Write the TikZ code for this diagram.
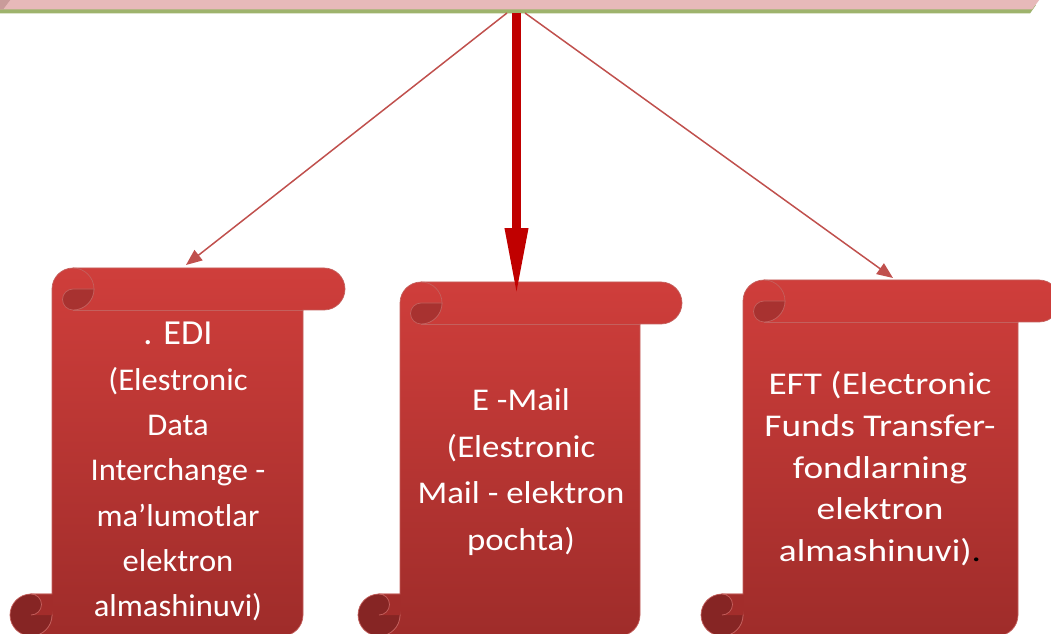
\documentclass[tikz,border=0pt]{standalone}
\usepackage{fontspec}
\newfontfamily\edifont[FakeStretch=1.03]{Carlito}
\newfontfamily\mailfont[FakeStretch=1.1]{Carlito}
\newfontfamily\eftfont[FakeStretch=1.18]{Carlito}
\usetikzlibrary{arrows.meta}

\definecolor{barpink}{HTML}{E7B9B9}
\definecolor{bargreen}{HTML}{9EB36C}
\definecolor{barside}{HTML}{C99B9A}
\definecolor{scrolltop}{HTML}{CF3E3B}
\definecolor{scrollbot}{HTML}{9F2C2A}
\definecolor{scrollline}{HTML}{C4605D}
\definecolor{curltop}{HTML}{A83230}
\definecolor{curlbot}{HTML}{862524}
\definecolor{linkred}{HTML}{C0504D}
\definecolor{mainred}{HTML}{C00000}

\begin{document}
\begin{tikzpicture}[x=0.02cm,y=-0.02cm,
  link/.style={draw=linkred,line width=0.85pt,-{Triangle[length=0.32cm,width=0.26cm]}},
  mainlink/.style={draw=mainred,line width=0.19cm,-{Triangle[length=1.4cm,width=0.42cm]}},
  scrolltext/.style 2 args={text=white,align=center,inner sep=0pt,anchor=north,
    font=#1\fontsize{18}{#2}\selectfont},
]
  \useasboundingbox (0,0) rectangle (1051,634);
  \clip (0,0) rectangle (1051,634);
  % 上の帯
  \fill[bargreen] (-5,5) -- (1036,5) -- (1030,13.5) -- (-5,13.5) -- cycle;
  \fill[barpink] (-5,-5) -- (1043,-5) -- (1032,9.5) -- (-5,9.5) -- cycle;
  \fill[barside] (-5,-5) -- (14,-5) -- (3,9.5) -- (-5,9.5) -- cycle;
  % 巻物
  \foreach \x/\r/\t in {10/345/268, 358/682/282, 701/1060/280}{
    \shadedraw[top color=scrolltop,bottom color=scrollbot,draw=scrollline,line width=0.4pt]
      (\x+21,636) arc[start angle=90,delta angle=-90,radius=21]
      -- (\x+21,615) arc[start angle=90,delta angle=180,radius=10.5]
      -- (\x+42,594) -- (\x+42,\t+21)
      arc[start angle=180,delta angle=90,radius=21]
      -- (\r-21,\t) arc[start angle=270,delta angle=180,radius=21]
      -- (\r-42,\t+42) -- (\r-42,615)
      arc[start angle=0,delta angle=90,radius=21] -- cycle;
    \draw[scrollline,line width=0.4pt] (\x+63,\t+42) -- (\r-42,\t+42);
    \draw[scrollline,line width=0.4pt] (\x+63,\t) arc[start angle=270,delta angle=180,radius=21];
    \filldraw[fill=curltop,draw=scrollline,line width=0.4pt] (\x+84,\t+21)
      arc[start angle=0,delta angle=90,radius=21]
      arc[start angle=90,delta angle=180,radius=10.5] -- cycle;
    % 下の巻き
    \filldraw[fill=curlbot,draw=scrollline,line width=0.4pt] (\x+21,615) circle[radius=21];
    \fill[scrollbot!92!scrolltop] (\x+21,594) -- (\x+42,594) -- (\x+42,615) -- (\x+21,615)
      arc[start angle=90,delta angle=-180,radius=10.5] -- cycle;
    \draw[scrollline,line width=0.4pt] (\x+42,594) -- (\x+21,594)
      arc[start angle=270,delta angle=180,radius=10.5];
  }
  % 文字
  \node[scrolltext={\edifont}{25.8pt}] (edi) at (178,322)
    {{\fontsize{20}{25.8}\selectfont. EDI}\\(Elestronic\\Data\\Interchange -\\ma’lumotlar\\elektron\\almashinuvi)};
  \node[scrolltext={\mailfont}{26.6pt}] (mail) at (521,388)
    {E -Mail\\(Elestronic\\Mail - elektron\\pochta)};
  \node[scrolltext={\eftfont}{23.8pt}] (eft) at (880,371)
    {EFT (Electronic\\Funds Transfer-\\fondlarning\\elektron\\almashinuvi)\textcolor{black}{.}};
  % 矢印
  \coordinate (barL) at (507,13);
  \coordinate (barC) at (516.5,13);
  \coordinate (barR) at (525,13);
  \coordinate (ediTop) at (186,265);
  \coordinate (mailTop) at (516.5,298);
  \coordinate (eftTop) at (893,278);
  \draw[link] (barL) -- (ediTop);
  \draw[link] (barR) -- (eftTop);
  \draw[mainlink] (barC) -- (mailTop);
\end{tikzpicture}
\end{document}
